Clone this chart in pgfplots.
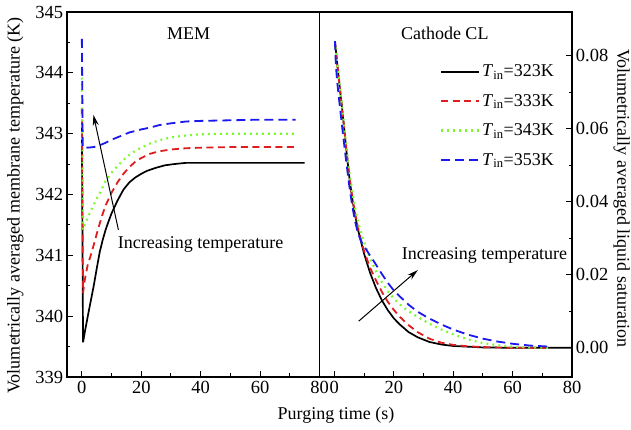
\documentclass[border=0pt]{standalone}
\usepackage{fontspec}
\setmainfont{Liberation Serif}
\usepackage{pgfplots}
\pgfplotsset{compat=1.18}
\usetikzlibrary{arrows.meta}
\definecolor{cred}{RGB}{222,30,30}
\definecolor{cgreen}{RGB}{120,250,40}
\definecolor{cblue}{RGB}{25,25,240}
\newcommand{\fs}[1]{\fontsize{#1}{#1}\selectfont}
\pgfplotsset{
 base/.style={scale only axis, width=252.5pt, height=365pt, xmin=-5, xmax=80,
  xtick={0,20,40,60,80}, minor x tick num=1, tick align=inside,
  major tick length=6pt, minor tick length=3.5pt, line width=1.2pt,
  every tick/.style={black, line width=1pt},
  /pgf/number format/assume math mode=true,
  tick label style={font=\fs{18.5}}, xtick pos=left,
  label style={font=\fs{18}}},
 l1/.style={black, line width=1.7pt},
 l2/.style={cred, line width=1.8pt, dash pattern=on 7pt off 4.5pt},
 l3/.style={cgreen, line width=2.2pt, dash pattern=on 1.8pt off 4.2pt},
 l4/.style={cblue, line width=1.8pt, dash pattern=on 9pt off 5pt},
}
\begin{document}
\begin{tikzpicture}
\path[use as bounding box] (-67pt,-53pt) rectangle (564pt,377pt);
\begin{axis}[base, at={(0pt,0pt)}, anchor=south west,
  ymin=339, ymax=345, ytick={339,340,341,342,343,344,345}, minor y tick num=1, ytick pos=left,
  ylabel={Volumetrically averaged membrane temperature (K)},
  ylabel style={at={(axis description cs:-0.205,0.47)}, anchor=center}]
\addplot[l1] coordinates {(0,343.15) (0.4,339.57) (1,339.74) (2,340.0) (3,340.25) (4,340.5) (5,340.78) (6,341.05) (7,341.25) (8,341.42) (9,341.56) (10,341.69) (12,341.9) (14,342.08) (16,342.2) (18,342.28) (20,342.34) (22,342.39) (25,342.44) (28,342.48) (31,342.5) (35,342.52) (45,342.52) (60,342.52) (75,342.52)};
\addplot[l2] coordinates {(0,343.42) (0.4,340.38) (1,340.6) (2,340.85) (3,341.0) (4,341.17) (5,341.35) (6,341.52) (7,341.68) (8,341.82) (10,342.03) (12,342.2) (14,342.34) (16,342.45) (18,342.54) (20,342.6) (23,342.67) (26,342.71) (30,342.74) (35,342.76) (40,342.77) (50,342.78) (72,342.78)};
\addplot[l3] coordinates {(0,343.92) (0.4,341.42) (1,341.5) (2,341.62) (3,341.73) (4,341.83) (5,341.93) (6,342.02) (7,342.12) (8,342.22) (10,342.36) (12,342.47) (14,342.57) (16,342.65) (18,342.72) (20,342.77) (23,342.84) (26,342.89) (30,342.94) (35,342.97) (40,342.99) (50,343.0) (72,343.0)};
\addplot[l4] coordinates {(0,344.56) (0.3,342.78) (2,342.77) (4,342.78) (6,342.81) (8,342.85) (10,342.9) (13,342.96) (16,343.02) (20,343.07) (23,343.1) (26,343.14) (30,343.17) (35,343.2) (40,343.21) (50,343.22) (60,343.23) (72,343.23)};
\draw[-{Stealth[length=11pt,width=6pt]}, line width=1pt] (axis cs:12.3,341.42) -- (axis cs:3.9,343.31);
\node[anchor=west, inner sep=0pt, font=\fs{18}] at (axis cs:11.9,341.18) {Increasing temperature};
\node[font=\fs{18}] at (rel axis cs:0.482,0.942) {MEM};
\end{axis}
\begin{axis}[base, at={(252.5pt,0pt)}, anchor=south west,
  ymin=-0.008, ymax=0.092, ytick={0,0.02,0.04,0.06,0.08}, minor y tick num=1,
  ytick pos=right, yticklabel pos=right, scaled y ticks=false,
  yticklabel style={/pgf/number format/fixed, /pgf/number format/fixed zerofill, /pgf/number format/precision=2},
  ylabel={Volumetrically averaged liquid saturation},
  ylabel style={at={(axis description cs:1.197,0.49)}, anchor=center, rotate=180},
  legend style={at={(0.475,0.862)}, anchor=north west, draw=none, fill=none, font=\fs{18}, row sep=12pt, inner sep=0pt},
  legend image code/.code={\draw[#1] (0pt,0pt) -- (38pt,0pt);},
  legend cell align=left]
\addplot[l1] coordinates {(0.2,0.0840) (1,0.0775) (2,0.0700) (3,0.0625) (4,0.0545) (5,0.0470) (6,0.0410) (7,0.0362) (8,0.0322) (9,0.0290) (10,0.0258) (12,0.0206) (14,0.0164) (16,0.0130) (18,0.0103) (20,0.0081) (22,0.0064) (25,0.0043) (28,0.0029) (32,0.0016) (36,0.0009) (40,0.0005) (45,0.0003) (50,0.0001) (60,0.0) (80,0.0)};
\addlegendentry{\textit{T}\textsubscript{in}=323K}
\addplot[l2] coordinates {(0.2,0.0840) (1,0.0775) (2,0.0700) (3,0.0625) (4,0.0547) (5,0.0473) (6,0.0414) (7,0.0367) (8,0.0328) (9,0.0295) (10,0.0265) (12,0.0220) (14,0.0185) (16,0.0153) (18,0.0126) (20,0.0104) (22,0.0085) (25,0.0062) (28,0.0043) (32,0.0025) (36,0.0014) (40,0.0008) (45,0.0004) (50,0.0002) (60,0.0) (73,0.0)};
\addlegendentry{\textit{T}\textsubscript{in}=333K}
\addplot[l3] coordinates {(0.2,0.0840) (1,0.0775) (2,0.0702) (3,0.0630) (4,0.0555) (5,0.0485) (6,0.0428) (7,0.0382) (8,0.0345) (9,0.0315) (10,0.0290) (12,0.0245) (14,0.0210) (16,0.0180) (18,0.0155) (20,0.0135) (23,0.0112) (26,0.0095) (29,0.0080) (32,0.0066) (36,0.0050) (40,0.0037) (45,0.0023) (50,0.0013) (55,0.0007) (60,0.0003) (66,0.0001) (73,0.0)};
\addlegendentry{\textit{T}\textsubscript{in}=343K}
\addplot[l4] coordinates {(0.2,0.0840) (0.5,0.0775) (1,0.0725) (2,0.0650) (3,0.0578) (4,0.0510) (5,0.0445) (6,0.0390) (7,0.0345) (8,0.0313) (9,0.0292) (10,0.0278) (12,0.0253) (14,0.0228) (16,0.0202) (18,0.0178) (20,0.0157) (22,0.0141) (25,0.0118) (28,0.0099) (32,0.0080) (36,0.0064) (40,0.0050) (45,0.0036) (50,0.0025) (55,0.0017) (60,0.0011) (66,0.0006) (73,0.0003)};
\addlegendentry{\textit{T}\textsubscript{in}=353K}
\draw[-{Stealth[length=11pt,width=6pt]}, line width=1pt] (axis cs:8.2,0.0073) -- (axis cs:28.1,0.0213);
\node[anchor=west, inner sep=0pt, font=\fs{18}] at (axis cs:22.5,0.0254) {Increasing temperature};
\node[font=\fs{18}] at (rel axis cs:0.496,0.942) {Cathode CL};
\end{axis}
\node[font=\fs{18}] at (269pt,-38pt) {Purging time (s)};
\end{tikzpicture}
\end{document}
